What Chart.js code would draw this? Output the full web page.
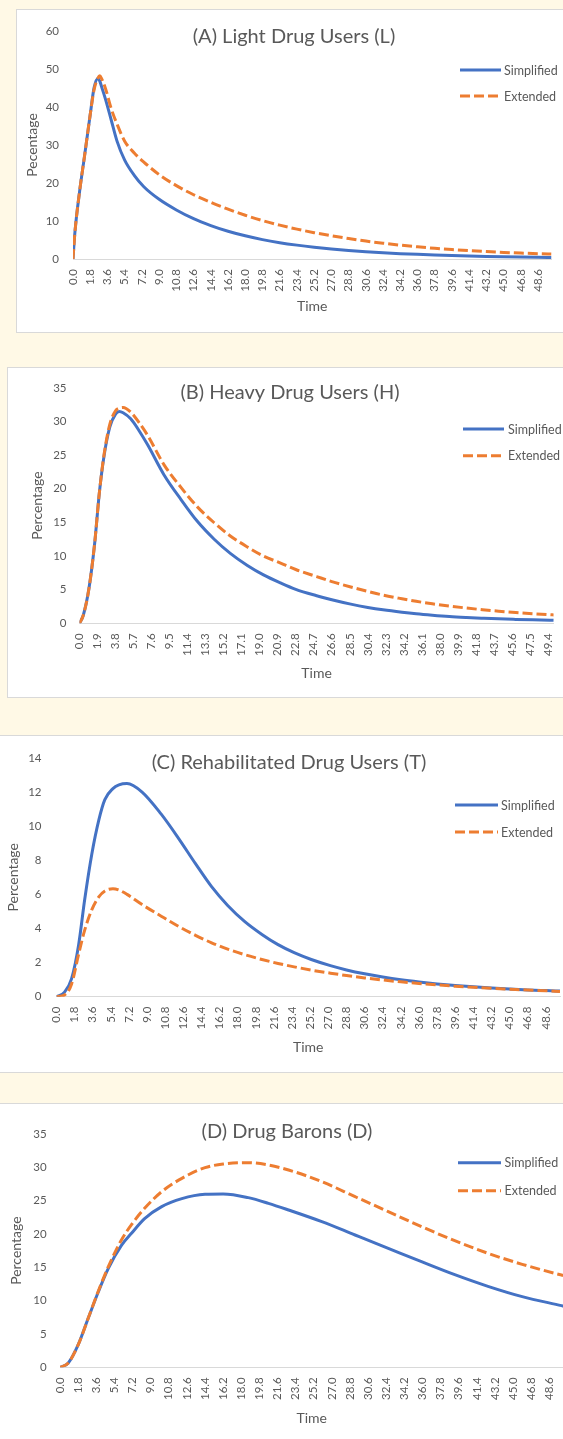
<!DOCTYPE html>
<html>
<head>
<meta charset="utf-8">
<title>Drug user compartments: Simplified vs Extended model</title>
<script src="https://cdn.jsdelivr.net/npm/chart.js@4.4.1/dist/chart.umd.min.js"></script>
<style>
  html, body { margin: 0; padding: 0; }
  body { width: 563px; height: 1439px; overflow: hidden; position: relative; background: #fff9e6; }
  .card { position: absolute; background: #ffffff; border: 1px solid #d9d9d9; }
  .card canvas { position: absolute; left: 0; top: 0; }
</style>
</head>
<body>
<div class="card" style="left:16px;top:9px;width:554px;height:322px"><canvas id="chartA" width="554" height="322"></canvas></div>
<div class="card" style="left:7px;top:367px;width:564px;height:329px"><canvas id="chartB" width="564" height="329"></canvas></div>
<div class="card" style="left:-6px;top:735px;width:588px;height:336px"><canvas id="chartC" width="588" height="336"></canvas></div>
<div class="card" style="left:-6px;top:1103px;width:584px;height:345px"><canvas id="chartD" width="584" height="345"></canvas></div>

<script>
// ---- Series (percentage of population over time) ----
const seriesNames = ['Simplified', 'Extended'];

// (A) Light drug users
const timeA = [0, 0.2, 0.7, 1.2, 1.8, 2.2, 2.6, 2.8, 3.0, 3.4, 4.0, 4.6, 5.4, 6.4, 7.4, 9.0, 10.8, 12.6, 14.4, 16.2, 18.0, 19.8, 21.6, 23.4, 25.2, 27.0, 28.8, 30.6, 32.4, 34.2, 36.0, 37.8, 39.6, 41.4, 43.2, 45.0, 46.8, 48.6, 50.0];
const simplifiedA = [0, 7, 18, 27, 38, 45, 47.5, 46.8, 45.2, 42, 36.5, 31, 26, 22, 19, 15.7, 12.9, 10.6, 8.8, 7.3, 6.1, 5.1, 4.3, 3.65, 3.1, 2.63, 2.24, 1.91, 1.64, 1.41, 1.22, 1.06, 0.92, 0.8, 0.69, 0.6, 0.52, 0.45, 0.4];
const extendedA = [0, 7, 18, 27, 38, 44.5, 47.6, 48.2, 47.4, 44.8, 39.5, 35.5, 31, 27.9, 25.5, 22.2, 19.3, 16.9, 14.9, 13.1, 11.5, 10.1, 8.9, 7.85, 6.93, 6.13, 5.38, 4.72, 4.15, 3.64, 3.2, 2.82, 2.49, 2.2, 1.95, 1.74, 1.56, 1.41, 1.31];

// (B) Heavy drug users
const timeB = [0, 0.4, 1.0, 1.6, 2.1, 2.6, 3.2, 3.8, 4.2, 4.6, 5.4, 6.3, 7.2, 8.9, 10.7, 12.4, 14.2, 15.9, 17.7, 19.4, 21.2, 22.8, 25.0, 26.6, 28.6, 30.4, 32.0, 34.0, 35.5, 37.2, 39.0, 40.8, 42.5, 44.2, 46.0, 47.8, 49.6, 50.0];
const simplifiedB = [0, 1.2, 5.2, 11.9, 19.5, 25, 29.2, 31.1, 31.5, 31.3, 30.4, 28.6, 26.5, 22.1, 18.4, 15.2, 12.5, 10.4, 8.6, 7.2, 6.0, 5.05, 4.1, 3.5, 2.85, 2.36, 2.0, 1.64, 1.41, 1.2, 1.01, 0.87, 0.76, 0.66, 0.58, 0.51, 0.45, 0.44];
const extendedB = [0, 1.2, 5.2, 11.9, 19.5, 25.2, 29.6, 31.6, 32.0, 32.1, 31.4, 29.8, 27.9, 23.6, 20.2, 17.35, 14.95, 12.98, 11.35, 10.0, 8.95, 8.0, 6.95, 6.2, 5.4, 4.75, 4.2, 3.65, 3.27, 2.9, 2.56, 2.27, 2.02, 1.8, 1.6, 1.43, 1.28, 1.25];

// (C) Rehabilitated drug users
const timeC = [0, 0.8, 1.5, 2.2, 2.8, 3.5, 4.2, 4.8, 5.6, 6.2, 7.0, 8.5, 10.4, 12.1, 13.8, 15.4, 17.0, 18.7, 20.4, 22.0, 23.6, 25.3, 27.2, 28.8, 30.6, 32.4, 34.2, 36.0, 37.8, 39.6, 41.4, 43.2, 45.0, 46.8, 48.6, 50.0];
const simplifiedC = [0, 0.27, 1.06, 3.05, 5.7, 8.34, 10.35, 11.55, 12.2, 12.42, 12.5, 12.0, 10.7, 9.3, 7.8, 6.45, 5.35, 4.4, 3.65, 3.05, 2.58, 2.18, 1.82, 1.57, 1.34, 1.15, 0.99, 0.86, 0.75, 0.66, 0.58, 0.51, 0.45, 0.4, 0.36, 0.33];
const extendedC = [0, 0.1, 0.75, 2.5, 3.9, 5.09, 5.85, 6.2, 6.33, 6.25, 6.0, 5.4, 4.72, 4.13, 3.6, 3.16, 2.79, 2.46, 2.18, 1.95, 1.75, 1.56, 1.38, 1.24, 1.1, 0.98, 0.87, 0.775, 0.69, 0.615, 0.55, 0.49, 0.44, 0.39, 0.35, 0.31];

// (D) Drug barons
const timeD = [0, 0.8, 1.8, 2.8, 3.8, 4.8, 6.1, 7.1, 8.4, 10.1, 12.1, 14.4, 16.2, 18.7, 20.7, 22.7, 26.0, 29.3, 32.6, 35.9, 39.2, 42.5, 45.9, 49.8, 50.0];
const simplifiedD = [0, 0.6, 3.35, 7.35, 11.3, 14.85, 18.3, 20.1, 22.3, 24.1, 25.3, 25.95, 26.0, 25.45, 24.6, 23.6, 21.85, 19.85, 17.85, 15.85, 13.9, 12.15, 10.6, 9.25, 9.18];
const extendedD = [0, 0.6, 3.35, 7.35, 11.4, 15.1, 19.1, 21.4, 23.85, 26.35, 28.35, 29.95, 30.5, 30.7, 30.35, 29.6, 27.85, 25.6, 23.35, 21.1, 19.0, 17.1, 15.45, 13.85, 13.78];

// ---- Axis tick labels ----
const timeTicks18 = [0.0, 1.8, 3.6, 5.4, 7.2, 9.0, 10.8, 12.6, 14.4, 16.2, 18.0, 19.8, 21.6, 23.4, 25.2, 27.0, 28.8, 30.6, 32.4, 34.2, 36.0, 37.8, 39.6, 41.4, 43.2, 45.0, 46.8, 48.6];
const timeTicks19 = [0.0, 1.9, 3.8, 5.7, 7.6, 9.5, 11.4, 13.3, 15.2, 17.1, 19.0, 20.9, 22.8, 24.7, 26.6, 28.5, 30.4, 32.3, 34.2, 36.1, 38.0, 39.9, 41.8, 43.7, 45.6, 47.5, 49.4];
const yTicksA = [0, 10, 20, 30, 40, 50, 60];
const yTicksB = [0, 5, 10, 15, 20, 25, 30, 35];
const yTicksC = [0, 2, 4, 6, 8, 10, 12, 14];
const yTicksD = [0, 5, 10, 15, 20, 25, 30, 35];

// ---- Styling ----
const FONT = 'Lato, "Open Sans", sans-serif';
const TEXT = '#595959';
const BLUE = '#4472c4';
const ORANGE = '#ed7d31';

// Chart title and an inset legend drawn over the plot area
const panelText = {
  id: 'panelText',
  afterDraw(chart, args, o) {
    const ctx = chart.ctx;
    ctx.save();
    ctx.fillStyle = TEXT;
    ctx.textBaseline = 'middle';
    ctx.textAlign = 'center';
    ctx.font = o.titleSize + 'px ' + FONT;
    ctx.fillText(o.title, o.titleX, o.titleY);
    ctx.textAlign = 'left';
    ctx.font = o.legendSize + 'px ' + FONT;
    chart.data.datasets.forEach((ds, i) => {
      const y = o.legendY + i * o.legendGap;
      ctx.beginPath();
      ctx.setLineDash(ds.borderDash || []);
      ctx.lineWidth = ds.borderWidth;
      ctx.strokeStyle = ds.borderColor;
      ctx.lineCap = 'butt';
      ctx.moveTo(o.legendX, y);
      ctx.lineTo(o.legendX + o.legendLen, y);
      ctx.stroke();
      ctx.setLineDash([]);
      ctx.fillText(ds.label, o.legendX + o.legendLen + o.legendPad, y + 0.5);
    });
    ctx.restore();
  }
};

function points(time, values) {
  return time.map((t, i) => ({ x: t, y: values[i] }));
}

function buildPanel(id, p, L) {
  return new Chart(document.getElementById(id), {
    type: 'line',
    data: {
      datasets: [
        { label: seriesNames[0], data: points(p.time, p.simplified), borderColor: BLUE, borderWidth: 3,
          pointRadius: 0, cubicInterpolationMode: 'monotone', order: 1, borderJoinStyle: 'round' },
        { label: seriesNames[1], data: points(p.time, p.extended), borderColor: ORANGE, borderWidth: 3,
          borderDash: [10, 4], pointRadius: 0, cubicInterpolationMode: 'monotone', order: 0, borderJoinStyle: 'round' }
      ]
    },
    options: {
      responsive: false,
      animation: false,
      events: [],
      layout: { padding: { left: 0, top: L.top, right: L.right, bottom: 0 } },
      plugins: {
        legend: { display: false },
        title: { display: false },
        tooltip: { enabled: false },
        panelText: {
          title: p.title, titleX: L.titleX, titleY: L.titleY, titleSize: 20,
          legendX: L.legendX, legendY: L.legendY, legendGap: L.legendGap, legendLen: L.legendLen,
          legendPad: L.legendPad, legendSize: 12.5
        }
      },
      scales: {
        x: {
          type: 'linear', min: 0, max: 50,
          grid: { display: false, drawTicks: false },
          border: { display: true, color: '#d9d9d9', width: 1 },
          afterBuildTicks: axis => { axis.ticks = p.xTicks.map(v => ({ value: v })); },
          afterFit: s => { s.height = L.xHeight; },
          ticks: {
            autoSkip: false, minRotation: 90, maxRotation: 90, padding: 10,
            color: TEXT, font: { family: FONT, size: 11.5 },
            callback: v => Number(v).toFixed(1)
          },
          title: { display: true, text: 'Time', color: TEXT, font: { family: FONT, size: 14 },
                   padding: { top: 0, bottom: L.xTitlePad } }
        },
        y: {
          type: 'linear', min: 0, max: p.yTicks[p.yTicks.length - 1],
          grid: { display: false, drawTicks: false },
          border: { display: false },
          afterBuildTicks: axis => { axis.ticks = p.yTicks.map(v => ({ value: v })); },
          afterFit: s => { s.width = L.yWidth; },
          ticks: { padding: L.yTickPad, color: TEXT, font: { family: FONT, size: 11.5 } },
          title: { display: true, text: p.yTitle, color: TEXT, font: { family: FONT, size: 14 },
                   padding: { top: L.yTitlePad, bottom: 0 } }
        }
      }
    },
    plugins: [panelText]
  });
}

function drawAll() {
  buildPanel('chartA',
    { time: timeA, simplified: simplifiedA, extended: extendedA, xTicks: timeTicks18, yTicks: yTicksA,
      title: '(A) Light Drug Users (L)', yTitle: 'Pecentage' },
    { top: 16.7, right: 19.5, yWidth: 56, xHeight: 73, yTickPad: 14, yTitlePad: 6.9, xTitlePad: 16.9,
      titleX: 277, titleY: 26.5, legendX: 443, legendY: 60, legendGap: 26, legendLen: 41, legendPad: 3 });

  buildPanel('chartB',
    { time: timeB, simplified: simplifiedB, extended: extendedB, xTicks: timeTicks19, yTicks: yTicksB,
      title: '(B) Heavy Drug Users (H)', yTitle: 'Percentage' },
    { top: 15.3, right: 13.3, yWidth: 71.5, xHeight: 73.7, yTickPad: 13, yTitlePad: 21.3, xTitlePad: 15.6,
      titleX: 282, titleY: 25, legendX: 455, legendY: 61, legendGap: 26.7, legendLen: 41, legendPad: 4 });

  buildPanel('chartC',
    { time: timeC, simplified: simplifiedC, extended: extendedC, xTicks: timeTicks18, yTicks: yTicksC,
      title: '(C) Rehabilitated Drug Users (T)', yTitle: 'Percentage' },
    { top: 17.3, right: 23, yWidth: 61.5, xHeight: 75.3, yTickPad: 15, yTitlePad: 10.2, xTitlePad: 16.6,
      titleX: 294, titleY: 27, legendX: 460, legendY: 69, legendGap: 27, legendLen: 43, legendPad: 3 });

  buildPanel('chartD',
    { time: timeD, simplified: simplifiedD, extended: extendedD, xTicks: timeTicks18, yTicks: yTicksD,
      title: '(D) Drug Barons (D)', yTitle: 'Percentage' },
    { top: 30, right: 15.5, yWidth: 65, xHeight: 81.7, yTickPad: 13.3, yTitlePad: 12.6, xTitlePad: 22.6,
      titleX: 292, titleY: 28, legendX: 463, legendY: 58.7, legendGap: 28, legendLen: 43, legendPad: 3.5 });
}

const fontReady = document.fonts && document.fonts.load
  ? Promise.all([document.fonts.load('12px Lato'), document.fonts.load('20px Lato')]).catch(() => null)
  : Promise.resolve();
fontReady.then(drawAll, drawAll);
</script>
</body>
</html>
